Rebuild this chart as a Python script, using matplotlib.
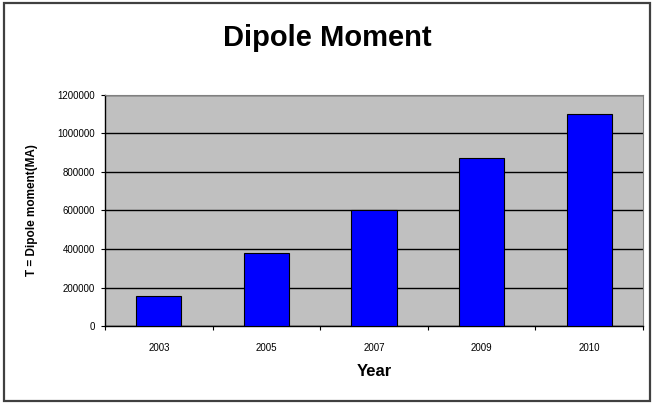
import numpy as np
from matplotlib import pyplot as plt
from matplotlib.patches import Rectangle

years = ["2003", "2005", "2007", "2009", "2010"]
dipole_moment = [155000, 380000, 600000, 870000, 1100000]
y_ticks = [0, 200000, 400000, 600000, 800000, 1000000, 1200000]

plt.rcParams["font.family"] = ["Liberation Sans", "DejaVu Sans"]

fig = plt.figure(figsize=(6.54, 4.04), dpi=100)
ax = fig.add_axes([0.1606, 0.193, 0.8224, 0.572])

x = np.arange(len(years))

# Plot area and bars
ax.set_facecolor("#C0C0C0")
ax.bar(x, dipole_moment, width=0.42, color="#0000FF", edgecolor="black", linewidth=0.8, zorder=3)

# Horizontal grid lines
ax.set_ylim(0, 1200000)
ax.set_yticks(y_ticks)
ax.set_yticklabels([str(v) for v in y_ticks], fontsize=7)
ax.yaxis.grid(True, color="black", linewidth=1.0, zorder=1)
ax.set_axisbelow(True)

# Category axis: labels centred, tick marks at boundaries
ax.set_xlim(-0.5, len(years) - 0.5)
ax.set_xticks(x)
ax.set_xticklabels(years, fontsize=7)
ax.set_xticks(np.arange(-0.5, len(years)), minor=True)
ax.tick_params(axis="x", which="major", length=0, pad=12)
ax.tick_params(axis="x", which="minor", length=3, direction="out", width=0.8)
ax.tick_params(axis="y", length=3, direction="out", width=0.8, pad=4)

for side in ["top", "right"]:
    ax.spines[side].set_color("#808080")
    ax.spines[side].set_linewidth(0.8)
for side in ["left", "bottom"]:
    ax.spines[side].set_color("black")
    ax.spines[side].set_linewidth(1.0)

ax.set_xlabel("Year", fontsize=12, fontweight="bold", labelpad=8)
ax.set_ylabel("T = Dipole moment(MA)", fontsize=8.5, fontweight="bold", labelpad=14)

fig.text(0.5, 0.906, "Dipole Moment", ha="center", va="center", fontsize=21, fontweight="bold")

# Chart border
fig.patches.append(Rectangle((0.006, 0.008), 0.988, 0.984, transform=fig.transFigure,
                             fill=False, edgecolor="#404040", linewidth=1.6))

fig.savefig("out.png", dpi=100)
